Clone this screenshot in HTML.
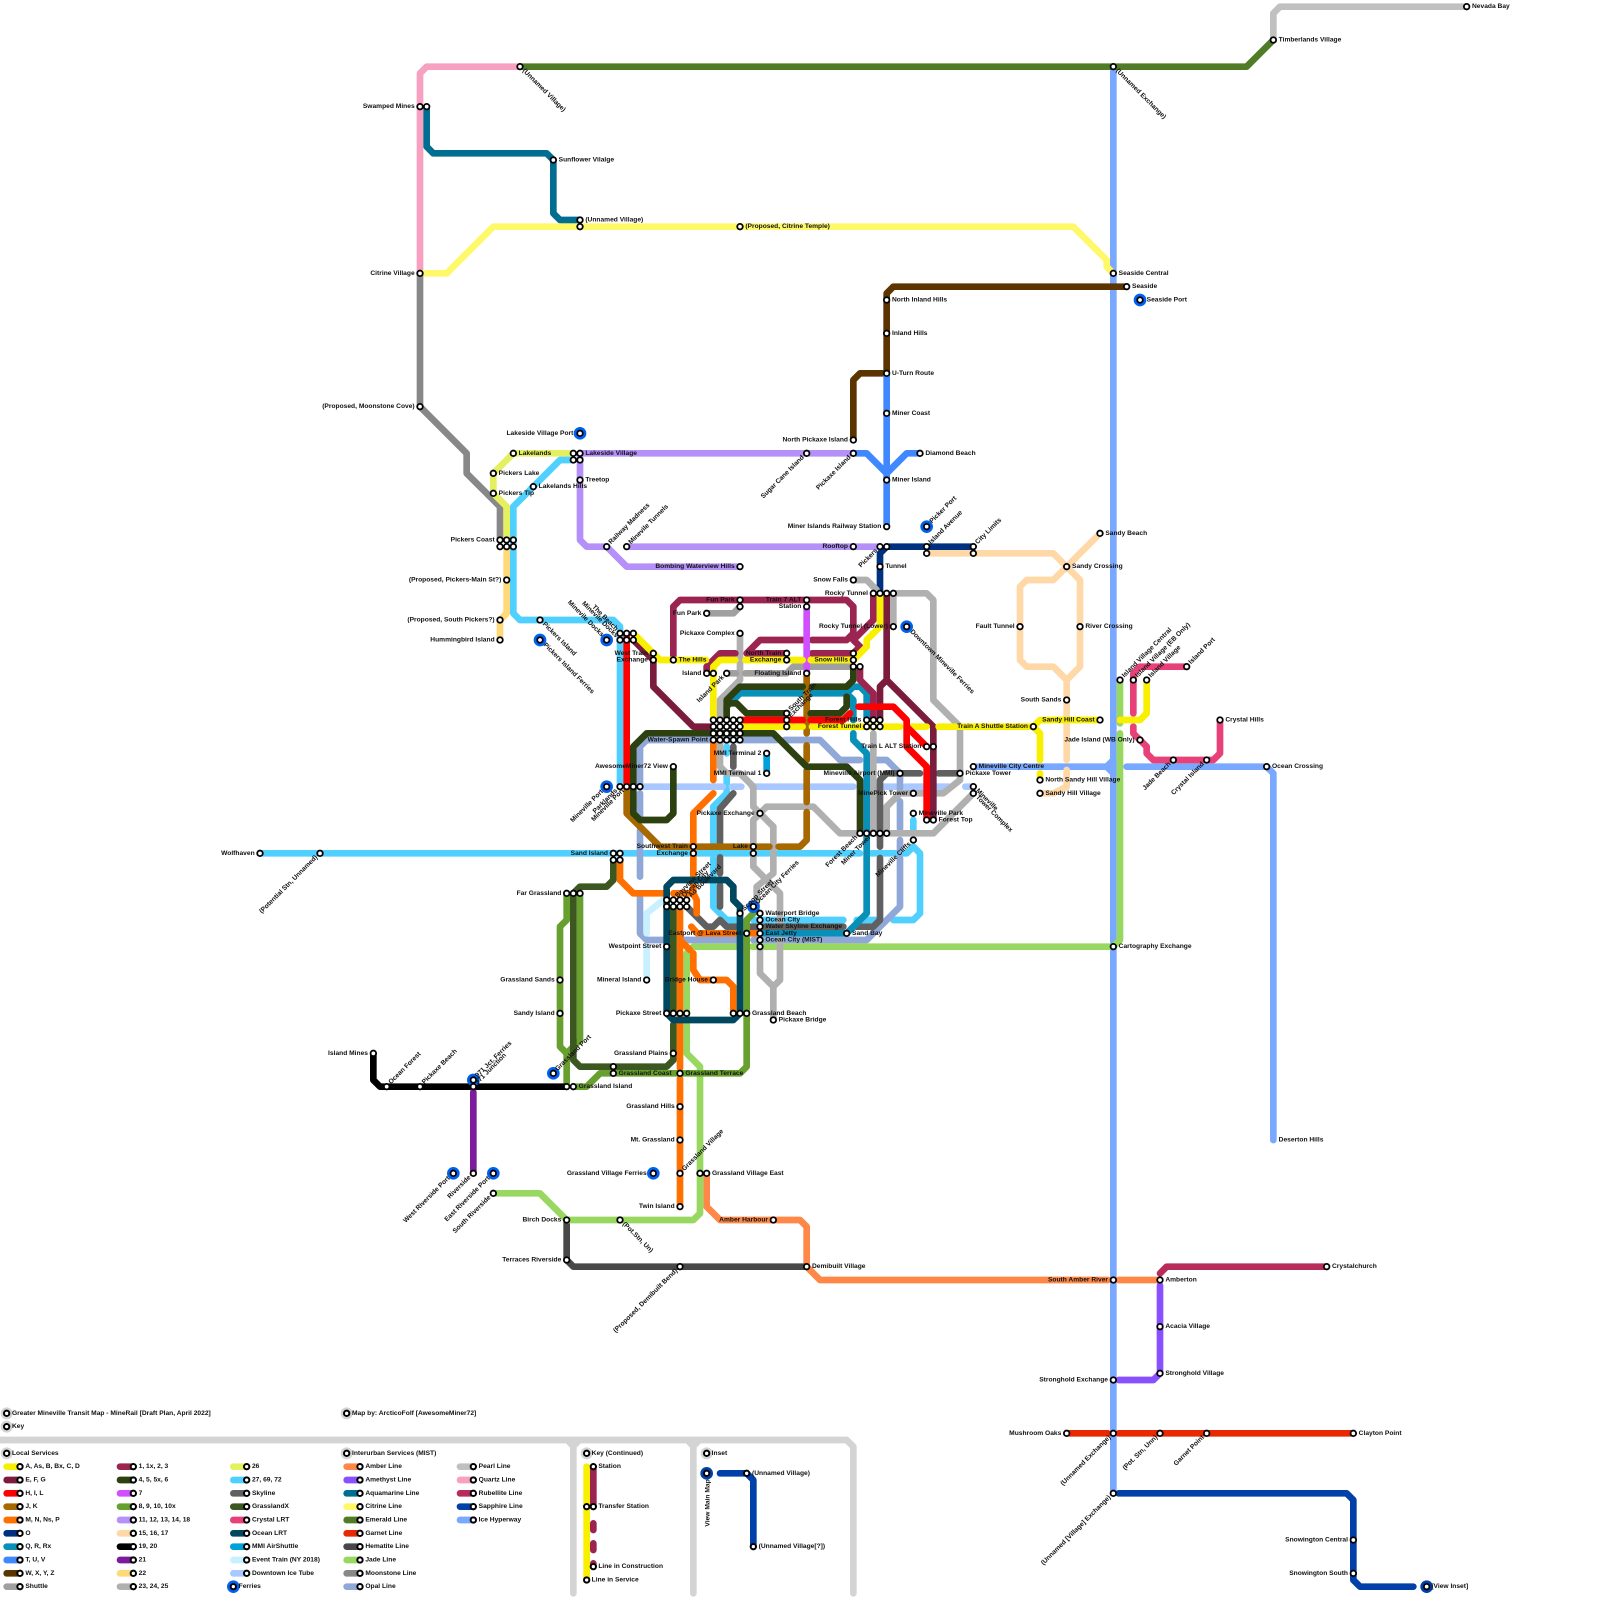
<!DOCTYPE html>
<html><head><meta charset="utf-8"><title>Greater Mineville Transit Map</title>
<style>
html,body{margin:0;padding:0;background:#fff}
svg{display:block}
text{font:bold 1px "Liberation Sans",sans-serif;fill:#111;dominant-baseline:central}
.e{text-anchor:end}
path{fill:none;stroke-width:1;stroke-linecap:round;stroke-linejoin:round}
#st,#ls{stroke-width:inherit;stroke:inherit}
</style></head><body>
<svg xmlns="http://www.w3.org/2000/svg" width="1600" height="1600" viewBox="0 0 240 240">
<rect width="240" height="240" fill="#fff"/>
<defs>
<path id="st" d="M78 10h0M167 10h0M191 6h0M220 1h0M63 16h0M64 16h0M83 24h0M87 33h0M87 34h0M111 34h0M63 41h0M167 41h0M169 43h0M133 45h0M133 50h0M133 56h0M133 62h0M63 61h0M128 66h0M128 68h0M121 68h0M138 68h0M133 72h0M133 79h0M77 68h0M86 68h0M87 68h0M86 69h0M87 69h0M74 71h0M74 74h0M87 72h0M80 73h0M75 81h0M76 81h0M77 81h0M75 82h0M76 82h0M77 82h0M91 82h0M94 82h0M128 82h0M132 82h0M133 82h0M139 82h0M139 83h0M146 82h0M146 83h0M165 80h0M160 85h0M111 85h0M132 85h0M128 87h0M76 87h0M131 89h0M132 89h0M133 89h0M134 89h0M111 90h0M111 91h0M121 90h0M121 91h0M106 92h0M75 93h0M81 93h0M93 95h0M94 95h0M95 95h0M93 96h0M94 96h0M95 96h0M75 96h0M134 94h0M153 94h0M162 94h0M111 95h0M98 98h0M98 99h0M101 99h0M118 98h0M118 99h0M128 98h0M128 99h0M128 100h0M129 100h0M106 101h0M107 101h0M109 101h0M121 101h0M168 102h0M170 102h0M172 102h0M178 100h0M160 105h0M165 108h0M183 108h0M155 109h0M118 107h0M118 108h0M118 109h0M130 108h0M131 108h0M132 108h0M130 109h0M131 109h0M132 109h0M107 108h0M108 108h0M109 108h0M110 108h0M111 108h0M107 109h0M108 109h0M109 109h0M110 109h0M111 109h0M107 110h0M108 110h0M109 110h0M110 110h0M111 110h0M107 111h0M108 111h0M109 111h0M110 111h0M111 111h0M171 111h0M139 112h0M140 112h0M115 113h0M115 116h0M101 115h0M146 115h0M190 115h0M135 116h0M144 116h0M156 117h0M156 119h0M93 118h0M94 118h0M95 118h0M96 118h0M146 118h0M146 119h0M137 119h0M176 114h0M181 114h0M114 122h0M137 122h0M139 123h0M140 123h0M129 125h0M130 125h0M131 125h0M132 125h0M133 125h0M137 126h0M104 127h0M104 128h0M113 127h0M113 128h0M92 128h0M93 128h0M92 129h0M93 129h0M39 128h0M48 128h0M85 134h0M86 134h0M87 134h0M100 135h0M101 135h0M102 135h0M103 135h0M100 136h0M101 136h0M102 136h0M103 136h0M111 137h0M114 137h0M114 138h0M114 139h0M114 140h0M114 141h0M114 142h0M112 140h0M127 140h0M100 142h0M167 142h0M97 147h0M107 147h0M84 147h0M84 152h0M100 152h0M101 152h0M102 152h0M103 152h0M110 152h0M111 152h0M112 152h0M116 153h0M101 158h0M56 158h0M58 163h0M63 163h0M71 162h0M71 163h0M92 160h0M92 161h0M102 161h0M85 163h0M86 163h0M102 166h0M102 171h0M102 176h0M71 176h0M105 176h0M106 176h0M74 179h0M102 181h0M85 183h0M93 183h0M116 183h0M85 189h0M102 190h0M121 190h0M199 190h0M167 192h0M174 192h0M174 199h0M174 206h0M167 207h0M160 215h0M167 215h0M174 215h0M181 215h0M203 215h0M167 224h0M203 231h0M203 236h0M87 65h0M139 79h0M171 45h0M136 94h0M91 96h0M81 96h0M91 118h0M113 136h0M83 161h0M68 176h0M74 176h0M98 176h0M214 238h0"/>
<path id="ls" d="M1 212h0M1 214h0M52 212h0M1 218h0M52 218h0M88 218h0M106 218h0M3 220h0M3 222h0M3 224h0M3 226h0M3 228h0M3 230h0M3 232h0M3 234h0M3 236h0M3 238h0M20 220h0M20 222h0M20 224h0M20 226h0M20 228h0M20 230h0M20 232h0M20 234h0M20 236h0M20 238h0M37 220h0M37 222h0M37 224h0M37 226h0M37 228h0M37 230h0M37 232h0M37 234h0M37 236h0M35 238h0M54 220h0M54 222h0M54 224h0M54 226h0M54 228h0M54 230h0M54 232h0M54 234h0M54 236h0M54 238h0M71 220h0M71 222h0M71 224h0M71 226h0M71 228h0M89 220h0M88 226h0M89 226h0M89 235h0M88 237h0M106 221h0M112 221h0M113 232h0"/>
</defs>

<!-- frame -->
<path stroke="#d4d4d4" d="M0 216H127L128 217V239M86 216V239M104 216V239"/>
<path stroke="#d4d4d4" style="stroke-width:.6" d="M85.2 216.4L86 217.2L86.8 216.4M103.2 216.4L104 217.2L104.8 216.4"/>

<!-- long interurban -->
<path stroke="#78a8ff" d="M167 10V224M146 115H166M169 115H190L191 116V171"/>
<path stroke="#78a8ff" style="fill:#78a8ff" d="M166 115L167 114V116Z"/>
<path stroke="#c0c0c0" d="M191 6V2L192 1H220"/>
<path stroke="#507c28" d="M78 10H187L191 6"/>
<path stroke="#f8a0c0" d="M78 10H64L63 11V41"/>
<path stroke="#006e90" d="M64 16V22L65 23H82L83 24V32L84 33H87"/>
<path stroke="#fff868" d="M63 41H67L74 34H161L166 39V40L167 41"/>
<path stroke="#888" d="M63 41V61L70 68V71L75 76V81"/>
<path stroke="#5c3400" d="M128 66V57L129 56H133V44L134 43H169"/>
<path stroke="#4088ff" d="M133 56V79M128 68H130L133 71L136 68H138"/>
<path stroke="#ff8848" d="M106 176V181L108 183H120L121 184V190L123 192H166.2M167.8 192H174"/>
<path stroke="#484848" d="M85 183V189L86 190H121"/>
<path stroke="#b82c5c" d="M174 191L175 190H199"/>
<path stroke="#8850ff" d="M174 192.8V206L173 207H167.8"/>
<path stroke="#e82800" d="M160 215H166.2M167.8 215H203"/>
<path stroke="#0040a8" d="M167.8 224H202L203 225V237L204 238H212M108 221H112L113 222V232"/>
<path stroke="#98d860" d="M168 102V108.5M168 110V141L167 142H117.5M116.4 142H112.8M110.5 142H104L103 143V158L105 160V182L104 183H85L81 179H74"/>

<!-- north local -->
<path stroke="#e5f060" d="M86 68H77L74 71V74L76 76V81"/>
<path stroke="#50d0ff" d="M86 69H84L77 76V92L78 93H92L93 94V118M39 128H95.5M96.7 128H115.4M116.7 128H129M130.7 128H136L137 127L138 128V137L137 138H134M131.5 138H128.5M126.5 138H113M110.5 138H109L107 136V128.8M107 127V121L109 119V116.5M109 113V112M137 123V124.5"/>
<path stroke="#ffd878" d="M76 82V92L75 93V96"/>
<path stroke="#b490f8" d="M87 68H128M87 68V81L88 82H91L94 85H111M94 82H132"/>
<path stroke="#003080" d="M133 82H146M133 82L132 83V89"/>
<path stroke="#ffd8a8" d="M139 83H158L162 87V100L160 102V114M160 115.5V118L158 119H156M165 80L158 87H154L153 88V99L154 100H158L160 102"/>
<path stroke="#e84078" d="M178 100H171L170 101V107M170 109V110L172 112V113L173 114H182L183 113V108"/>
<path stroke="#f8f000" d="M155 109L156 108H165M168 108H171L172 107V102M155 109L156 110V114M156 116V117"/>

<!-- central -->
<path stroke="#a8c8ff" d="M95 118H100.5M101.6 118H108.4M109.8 118H111.2M112.8 118H120.4M121.6 118H128M129.3 118H134.4M135.8 118H138.5M139.6 118H142.3M144.8 118H146"/>
<path stroke="#90a8d8" d="M107 111H116.5M117.7 111H123L126 114H129M131.5 114H133L135 116V119M135 120.2V124.3M135 126V127.5M135 128.7V136L130 141H113M110.5 141H102.5M99.5 141H97L96 140V134.5M96 131.5V124.5M96 122.5V119M96 117.5V112L97 111H107"/>
<path stroke="#b0b0b0" d="M111 95V102L108 105V115L109 116H111L113 118V121L114 122L115 121H122L126 125H133M114 122L113 123V130L117 134V147L116 148L114 146V142M116 148V153M114 122L116 124V131L113.5 133V136M134 89H139L140 90V105L144 109V116L144 117L141.5 119H140.5M146 119L140 125H133M137 119H135L133 121V125M134 89V94M128 87H130L131.5 88.5M131 110V125M139 119H136"/>
<path stroke="#a0a0a0" d="M106 92H110L111 91M109 101H110.4M111.8 101H118L119 100H120.4M121.6 100H127.5"/>
<path stroke="#606060" d="M110 112V115M110 119L108 121.3V126.5M108 128.6V131M108 132.8V136M103 136L106 139H107L108 138L109 139H110.5M112.5 139H126.5M128.5 139H131L132 138V128.7M132 127V117L133 116H138M140.8 116H144"/>
<path stroke="#00a0d8" d="M115 113V116"/>
<path stroke="#c8f0ff" d="M97 147V142M97 140V137L99.5 135"/>
<path stroke="#0890b8" d="M109 107V106L111 104H127L128 103H129L130 104V108M127 104L128 105V108M128 110V111L130 113V137L127 140H114"/>
<path stroke="#9c2450" d="M101 99V91L102 90H127L128 91V95L127 96H121.8M120.4 96H114L112 98H118M121.8 98H128M131 89V93L128 96L129 97V97L128 98M106 101V100L108 98H110.3M129 100V102L131 104V108"/>
<path stroke="#7c1c3c" d="M95 96L98 99V103L104 109H107M133 89V102L132 103V108M133 102L140 109V123"/>
<path stroke="#d050ff" d="M121 91V101"/>
<path stroke="#a86800" d="M121 101.5V110M121 111.8V114M121 115.6V120.3M121 121.8V126L120 127H116.8M115.4 127H104L99 127L94 122V118"/>
<path stroke="#ff7000" d="M107 111V117M107 119L104 122V134L104.5 135V137M102 136V160.2M102 161.8V181M93 129V132L95 134H99.5M103.7 139L104.6 140H110.5M112.5 140H114M104 143V145.5L105 147H109L110 148V152M102 141L103.5 142.5"/>
<path stroke="#2c4010" d="M128 100V102L127 103H121.8M120.4 103H111L109 105V108M109 105.5H110.5L112 107H118M121.6 107H126L127 106V104.5M95 118V112L97 110H116L121 115H127L129 117V125M95 118V122L96 123H100L101 122V115"/>
<path stroke="#f8f000" d="M95 95L98 98L99 99H105.9M107 108V100L108 99H110.3M111.8 99H120.4M121.6 99H128L130 97V96L132 94V89M111 109H120.4M121.8 109H135M136.8 109H139M140.8 109H155"/>
<path stroke="#f00" d="M94 95V118M111 108H120.4M121.6 108H126.5L127.5 107M128.8 106H134L136 108V112L139 115V123M136 109L139 112"/>
<path stroke="#68a030" d="M85 134V138L84 139V157L85 158V163M87 134V156L85 158M86 163H88L90 161H111L112 160V138L113.5 136.5"/>
<path stroke="#3c5820" d="M86 134L87 133H91L92 132V129M86 134V159L87 160H100L101 159V153.7M101 136V152"/>
<path stroke="#004860" d="M100 136V133L101 132H109L110 133V135L111 136V152L110 153H101L100 152V136"/>
<path stroke="#ff7000" d="M101 134H104"/>
<path stroke="#000" d="M56 158V162L57 163H85"/>
<path stroke="#7c1c9c" d="M71 163.8V176"/>

<!-- key continued -->
<path stroke="#f8f000" d="M88 220V237"/>
<path stroke="#9c2450" d="M89 220V226M89 228.5V229.5M89 231.5V232.5M89 234.5V235"/>

<!-- legend strips -->
<path stroke="#f8f000" d="M1 220h2"/><path stroke="#7c1c3c" d="M1 222h2"/><path stroke="#f00" d="M1 224h2"/><path stroke="#a86800" d="M1 226h2"/><path stroke="#ff7000" d="M1 228h2"/><path stroke="#003080" d="M1 230h2"/><path stroke="#0890b8" d="M1 232h2"/><path stroke="#4088ff" d="M1 234h2"/><path stroke="#5c3400" d="M1 236h2"/><path stroke="#a0a0a0" d="M1 238h2"/>
<path stroke="#9c2450" d="M18 220h2"/><path stroke="#2c4010" d="M18 222h2"/><path stroke="#d050ff" d="M18 224h2"/><path stroke="#68a030" d="M18 226h2"/><path stroke="#b490f8" d="M18 228h2"/><path stroke="#ffd8a8" d="M18 230h2"/><path stroke="#000" d="M18 232h2"/><path stroke="#7c1c9c" d="M18 234h2"/><path stroke="#ffd878" d="M18 236h2"/><path stroke="#b0b0b0" d="M18 238h2"/>
<path stroke="#e5f060" d="M35 220h2"/><path stroke="#50d0ff" d="M35 222h2"/><path stroke="#606060" d="M35 224h2"/><path stroke="#3c5820" d="M35 226h2"/><path stroke="#e84078" d="M35 228h2"/><path stroke="#004860" d="M35 230h2"/><path stroke="#00a0d8" d="M35 232h2"/><path stroke="#c8f0ff" d="M35 234h2"/><path stroke="#a8c8ff" d="M35 236h2"/>
<path stroke="#ff8848" d="M52 220h2"/><path stroke="#8850ff" d="M52 222h2"/><path stroke="#006e90" d="M52 224h2"/><path stroke="#fff868" d="M52 226h2"/><path stroke="#507c28" d="M52 228h2"/><path stroke="#e82800" d="M52 230h2"/><path stroke="#484848" d="M52 232h2"/><path stroke="#98d860" d="M52 234h2"/><path stroke="#888" d="M52 236h2"/><path stroke="#90a8d8" d="M52 238h2"/>
<path stroke="#c0c0c0" d="M69 220h2"/><path stroke="#f8a0c0" d="M69 222h2"/><path stroke="#b82c5c" d="M69 224h2"/><path stroke="#0040a8" d="M69 226h2"/><path stroke="#78a8ff" d="M69 228h2"/>

<!-- halos -->
<path stroke="#d4d4d4" style="stroke-width:1.8" d="M1 212h0M1 214h0M52 212h0M1 218h0M52 218h0M88 218h0M106 218h0"/>
<path stroke="#0060f0" style="stroke-width:1.9" d="M87 65h0M139 79h0M171 45h0M136 94h0M91 96h0M81 96h0M91 118h0M113 136h0M83 161h0M71 162h0M68 176h0M74 176h0M98 176h0M35 238h0"/>
<path stroke="#0040a8" style="stroke-width:1.9" d="M214 238h0M106 221h0"/>

<use href="#st" stroke="#000" stroke-width="1.1"/>
<use href="#st" stroke="#fff" stroke-width=".56"/>
<use href="#ls" stroke="#000" stroke-width="1.1"/>
<use href="#ls" stroke="#fff" stroke-width=".5"/>

<!-- right labels -->
<text x="220.8" y="1">Nevada Bay</text><text x="191.8" y="6">Timberlands Village</text>
<text x="83.8" y="24">Sunflower Vilalge</text><text x="87.8" y="33">(Unnamed Village)</text><text x="111.8" y="34">(Proposed, Citrine Temple)</text>
<text x="167.8" y="41">Seaside Central</text><text x="169.8" y="43">Seaside</text><text x="172" y="45">Seaside Port</text>
<text x="133.8" y="45">North Inland Hills</text><text x="133.8" y="50">Inland Hills</text><text x="133.8" y="56">U-Turn Route</text><text x="133.8" y="62">Miner Coast</text>
<text x="77.8" y="68">Lakelands</text><text x="87.8" y="68">Lakeside Village</text><text x="138.8" y="68">Diamond Beach</text><text x="133.8" y="72">Miner Island</text>
<text x="74.8" y="71">Pickers Lake</text><text x="74.8" y="74">Pickers Tip</text><text x="87.8" y="72">Treetop</text><text x="80.8" y="73">Lakelands Hills</text>
<text x="165.8" y="80">Sandy Beach</text><text x="160.8" y="85">Sandy Crossing</text><text x="132.8" y="85">Tunnel</text>
<text x="162.8" y="94">River Crossing</text><text x="101.8" y="99">The Hills</text><text x="183.8" y="108">Crystal Hills</text>
<text x="146.8" y="115">Mineville City Centre</text><text x="190.8" y="115">Ocean Crossing</text><text x="144.8" y="116">Pickaxe Tower</text>
<text x="156.8" y="117">North Sandy Hill Village</text><text x="156.8" y="119">Sandy Hill Village</text>
<text x="137.8" y="122">Mineville Park</text><text x="140.8" y="123">Forest Top</text><text x="127.8" y="140">Sand Bay</text>
<text x="114.8" y="137">Waterport Bridge</text><text x="114.8" y="138">Ocean City</text><text x="114.8" y="139">Water Skyline Exchange</text><text x="114.8" y="140">East Jetty</text><text x="114.8" y="141">Ocean City (MIST)</text>
<text x="167.8" y="142">Cartography Exchange</text><text x="112.8" y="152">Grassland Beach</text><text x="116.8" y="153">Pickaxe Bridge</text>
<text x="92.8" y="161">Grassland Coast</text><text x="102.8" y="161">Grassland Terrace</text><text x="86.8" y="163">Grassland Island</text>
<text x="191.8" y="171">Deserton Hills</text><text x="106.8" y="176">Grassland Village East</text><text x="121.8" y="190">Demibuilt Village</text><text x="199.8" y="190">Crystalchurch</text>
<text x="174.8" y="192">Amberton</text><text x="174.8" y="199">Acacia Village</text><text x="174.8" y="206">Stronghold Village</text><text x="203.8" y="215">Clayton Point</text><text x="214.7" y="238">[View Inset]</text>

<!-- left labels -->
<g class="e">
<text x="62.2" y="16">Swamped Mines</text><text x="62.2" y="41">Citrine Village</text><text x="62.2" y="61">(Proposed, Moonstone Cove)</text>
<text x="86" y="65">Lakeside Village Port</text><text x="127.2" y="66">North Pickaxe Island</text><text x="132.2" y="79">Miner Islands Railway Station</text>
<text x="74.2" y="81">Pickers Coast</text><text x="127.2" y="82">Rooftop</text><text x="110.2" y="85">Bombing Waterview Hills</text><text x="127.2" y="87">Snow Falls</text>
<text x="75.2" y="87">(Proposed, Pickers-Main St?)</text><text x="130.2" y="89">Rocky Tunnel</text><text x="110.2" y="90">Fun Park</text><text x="120.2" y="90">Train 7 ALT</text><text x="120.2" y="91">Station</text>
<text x="105.2" y="92">Fun Park</text><text x="74.2" y="93">(Proposed, South Pickers?)</text><text x="74.2" y="96">Hummingbird Island</text><text x="133.2" y="94">Rocky Tunnel (Lower)</text>
<text x="152.2" y="94">Fault Tunnel</text><text x="110.2" y="95">Pickaxe Complex</text><text x="97.2" y="98">West Train</text><text x="97.2" y="99">Exchange</text>
<text x="117.2" y="98">North Train</text><text x="117.2" y="99">Exchange</text><text x="127.2" y="99">Snow Hills</text><text x="105.2" y="101">Island</text><text x="120.2" y="101">Floating Island</text>
<text x="159.2" y="105">South Sands</text><text x="164.2" y="108">Sandy Hill Coast</text><text x="129.2" y="108">Forest Hills</text><text x="129.2" y="109">Forest Tunnel</text><text x="154.2" y="109">Train A Shuttle Station</text>
<text x="170.2" y="111">Jade Island (WB Only)</text><text x="138.2" y="112">Train L ALT Station</text><text x="106.2" y="111">Water-Spawn Point</text><text x="114.2" y="113">MMI Terminal 2</text><text x="114.2" y="116">MMI Terminal 1</text>
<text x="100.2" y="115">AwesomeMiner72 View</text><text x="134.2" y="116">Mineville Airport (MMI)</text><text x="136.2" y="119">MinePick Tower</text><text x="113.2" y="122">Pickaxe Exchange</text>
<text x="103.2" y="127">Southwest Train</text><text x="103.2" y="128">Exchange</text><text x="112.2" y="127">Lake</text><text x="91.2" y="128">Sand Island</text><text x="38.2" y="128">Wolfhaven</text>
<text x="84.2" y="134">Far Grassland</text><text x="111.2" y="140">Eastport @ Lava Street</text><text x="99.2" y="142">Westpoint Street</text><text x="96.2" y="147">Mineral Island</text><text x="106.2" y="147">Bridge House</text>
<text x="83.2" y="147">Grassland Sands</text><text x="83.2" y="152">Sandy Island</text><text x="99.2" y="152">Pickaxe Street</text><text x="100.2" y="158">Grassland Plains</text><text x="55.2" y="158">Island Mines</text>
<text x="101.2" y="166">Grassland Hills</text><text x="101.2" y="171">Mt. Grassland</text><text x="97" y="176">Grassland Village Ferries</text><text x="101.2" y="181">Twin Island</text>
<text x="84.2" y="183">Birch Docks</text><text x="115.2" y="183">Amber Harbour</text><text x="84.2" y="189">Terraces Riverside</text><text x="166.2" y="192">South Amber River</text><text x="166.2" y="207">Stronghold Exchange</text>
<text x="159.2" y="215">Mushroom Oaks</text><text x="202.2" y="231">Snowington Central</text><text x="202.2" y="236">Snowington South</text>
</g>

<!-- rotated -45 start -->
<g>
<text transform="translate(91 82)rotate(-45)" x=".7">Railway Madness</text>
<text transform="translate(94 82)rotate(-45)" x=".7">Minevile Tunnels</text>
<text transform="translate(139 79)rotate(-45)" x=".9">Picker Port</text>
<text transform="translate(139 82)rotate(-45)" x=".7">Island Avenue</text>
<text transform="translate(146 82)rotate(-45)" x=".7">City Limits</text>
<text transform="translate(168 102)rotate(-45)" x=".7">Island Village Central</text>
<text transform="translate(170 102)rotate(-45)" x=".7">Island Village (EB Only)</text>
<text transform="translate(172 102)rotate(-45)" x=".7">Island Village</text>
<text transform="translate(178 100)rotate(-45)" x=".7">Island Port</text>
<text transform="translate(118 107)rotate(-45)" x=".7">South Train</text>
<text transform="translate(118 108)rotate(-45)" x=".7">Exchange</text>
<text transform="translate(101 135)rotate(-45)" x=".7">Bayview Street</text>
<text transform="translate(102 135)rotate(-45)" x=".7">Ocean City</text>
<text transform="translate(103 135)rotate(-45)" x=".7">Ad Boulevard</text>
<text transform="translate(111 137)rotate(-45)" x=".7">Scoop Street</text>
<text transform="translate(113 136)rotate(-45)" x=".7">Ocean City Ferries</text>
<text transform="translate(83 161)rotate(-45)" x=".7">Grassland Port</text>
<text transform="translate(58 163)rotate(-45)" x=".7">Ocean Forest</text>
<text transform="translate(63 163)rotate(-45)" x=".7">Pickaxe Beach</text>
<text transform="translate(71 162)rotate(-45)" x=".7">971 Jct. Ferries</text>
<text transform="translate(71 163)rotate(-45)" x=".7">971 Junction</text>
<text transform="translate(102 176)rotate(-45)" x=".7">Grassland Village</text>
</g>

<!-- rotated -45 end -->
<g class="e">
<text transform="translate(121 68)rotate(-45)" x="-.7">Sugar Cane Island</text>
<text transform="translate(128 68)rotate(-45)" x="-.7">Pickaxe Island</text>
<text transform="translate(132 82)rotate(-45)" x="-.7">Pickers</text>
<text transform="translate(109 101)rotate(-45)" x="-.7">Island Park</text>
<text transform="translate(176 114)rotate(-45)" x="-.7">Jade Beach</text>
<text transform="translate(181 114)rotate(-45)" x="-.7">Crystal Island</text>
<text transform="translate(91 118)rotate(-45)" x="-.9">Mineville Port</text>
<text transform="translate(93 118)rotate(-45)" x="-.7">Parklands</text>
<text transform="translate(94 118)rotate(-45)" x="-.7">Mineville Port</text>
<text transform="translate(129 125)rotate(-45)" x="-.7">Forest Beach</text>
<text transform="translate(131 125)rotate(-45)" x="-.7">Miner Tower</text>
<text transform="translate(137 126)rotate(-45)" x="-.7">Mineville Cliffs</text>
<text transform="translate(48 128)rotate(-45)" x="-.7">(Potential Stn, Unnamed)</text>
<text transform="translate(68 176)rotate(-45)" x="-.9">West Riverside Port</text>
<text transform="translate(71 176)rotate(-45)" x="-.7">Riverside</text>
<text transform="translate(74 176)rotate(-45)" x="-.9">East Riverside Port</text>
<text transform="translate(74 179)rotate(-45)" x="-.7">South Riverside</text>
<text transform="translate(102 190)rotate(-45)" x="-.7">(Proposed, Demibuilt Bend)</text>
<text transform="translate(167 215)rotate(-45)" x="-.7">(Unnamed Exchange)</text>
<text transform="translate(174 215)rotate(-45)" x="-.7">(Pot. Stn, Unn)</text>
<text transform="translate(181 215)rotate(-45)" x="-.7">Garnet Point</text>
<text transform="translate(167 224)rotate(-45)" x="-.7">(Unnamed [Village] Exchange)</text>
<text transform="translate(93 95)rotate(45)" x="-.7">The Beach</text>
<text transform="translate(93 96)rotate(45)" x="-.7">Minevile Docks</text>
<text transform="translate(91 96)rotate(45)" x="-.9">Minevile Docks</text>
<text transform="translate(106 221)rotate(-90)" x="-.9" y=".2">View Main Map</text>
</g>

<!-- rotated +45 start -->
<text transform="translate(78 10)rotate(45)" x=".7">(Unnamed Village)</text>
<text transform="translate(167 10)rotate(45)" x=".7">(Unnamed Exchange)</text>
<text transform="translate(81 93)rotate(45)" x=".7">Pickers Island</text>
<text transform="translate(81 96)rotate(45)" x=".9">Pickers Island Ferries</text>
<text transform="translate(136 94)rotate(45)" x=".9">Downtown Mineville Ferries</text>
<text transform="translate(146 118)rotate(45)" x=".7">Mineville</text>
<text transform="translate(146 119)rotate(45)" x=".7">Tower Complex</text>
<text transform="translate(93 183)rotate(45)" x=".7">(Pot.Stn, Un)</text>

<!-- legend text -->
<text x="1.8" y="212">Greater Mineville Transit Map - MineRail [Draft Plan,  April 2022]</text>
<text x="1.8" y="214">Key</text><text x="52.8" y="212">Map by: ArcticoFolf [AwesomeMiner72]</text>
<text x="1.8" y="218">Local Services</text><text x="52.8" y="218">Interurban Services (MIST)</text>
<text x="3.8" y="220">A, As, B, Bx, C, D</text><text x="3.8" y="222">E, F, G</text><text x="3.8" y="224">H, I, L</text><text x="3.8" y="226">J, K</text><text x="3.8" y="228">M, N, Ns, P</text><text x="3.8" y="230">O</text><text x="3.8" y="232">Q, R, Rx</text><text x="3.8" y="234">T, U, V</text><text x="3.8" y="236">W, X, Y, Z</text><text x="3.8" y="238">Shuttle</text>
<text x="20.8" y="220">1, 1x, 2, 3</text><text x="20.8" y="222">4, 5, 5x, 6</text><text x="20.8" y="224">7</text><text x="20.8" y="226">8, 9, 10, 10x</text><text x="20.8" y="228">11, 12, 13, 14, 18</text><text x="20.8" y="230">15, 16, 17</text><text x="20.8" y="232">19, 20</text><text x="20.8" y="234">21</text><text x="20.8" y="236">22</text><text x="20.8" y="238">23, 24, 25</text>
<text x="37.8" y="220">26</text><text x="37.8" y="222">27, 69, 72</text><text x="37.8" y="224">Skyline</text><text x="37.8" y="226">GrasslandX</text><text x="37.8" y="228">Crystal LRT</text><text x="37.8" y="230">Ocean LRT</text><text x="37.8" y="232">MMI AirShuttle</text><text x="37.8" y="234">Event Train (NY 2018)</text><text x="37.8" y="236">Downtown Ice Tube</text><text x="35.8" y="238">Ferries</text>
<text x="54.8" y="220">Amber Line</text><text x="54.8" y="222">Amethyst Line</text><text x="54.8" y="224">Aquamarine Line</text><text x="54.8" y="226">Citrine Line</text><text x="54.8" y="228">Emerald Line</text><text x="54.8" y="230">Garnet Line</text><text x="54.8" y="232">Hematite Line</text><text x="54.8" y="234">Jade Line</text><text x="54.8" y="236">Moonstone Line</text><text x="54.8" y="238">Opal Line</text>
<text x="71.8" y="220">Pearl Line</text><text x="71.8" y="222">Quartz Line</text><text x="71.8" y="224">Rubellite Line</text><text x="71.8" y="226">Sapphire Line</text><text x="71.8" y="228">Ice Hyperway</text>
<text x="88.75" y="218">Key (Continued)</text><text x="89.75" y="220">Station</text><text x="89.75" y="226">Transfer Station</text><text x="89.75" y="235">Line in Construction</text><text x="88.75" y="237">Line in Service</text>
<text x="106.75" y="218">Inset</text><text x="112.8" y="221">(Unnamed Village)</text><text x="113.8" y="232">(Unnamed Village[?])</text>
</svg>
</body></html>
